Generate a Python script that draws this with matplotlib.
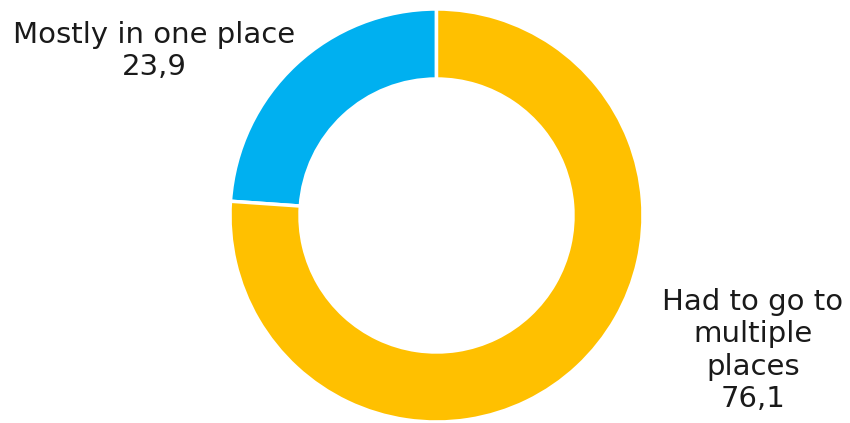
import matplotlib
matplotlib.use("Agg")
import matplotlib.pyplot as plt

categories = ["Mostly in one place", "Had to go to\nmultiple\nplaces"]
values = [23.9, 76.1]
value_labels = ["23,9", "76,1"]
colors = ["#00B0F0", "#FFC000"]

fig = plt.figure(figsize=(8.5, 4.23), dpi=100)
ax = fig.add_axes([230/850, 1/423, 413/850, 413/423])
ax.pie(values, colors=colors, startangle=90, counterclock=True, radius=1,
       wedgeprops=dict(width=0.339, edgecolor="white", linewidth=2.5))
ax.set_xlim(-1, 1)
ax.set_ylim(-1, 1)
ax.set_aspect("equal")
ax.axis("off")

fs = 21
# va='baseline' aligns to the last line's baseline for multi-line text
fig.text(154/850, 1 - 75/423, categories[0] + "\n" + value_labels[0], ha="center",
         va="baseline", fontsize=fs, color="#1a1a1a", linespacing=1.2,
         multialignment="center")
fig.text(753/850, 1 - 407/423, categories[1] + "\n" + value_labels[1], ha="center",
         va="baseline", fontsize=fs, color="#1a1a1a", linespacing=1.2,
         multialignment="center")

fig.savefig("out.png", dpi=100, facecolor="white")
